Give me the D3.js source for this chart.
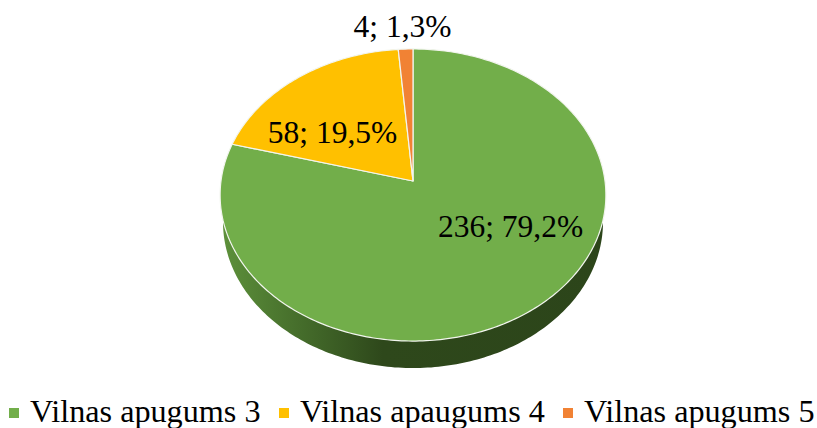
<!DOCTYPE html>
<html><head><meta charset="utf-8">
<script src="https://cdnjs.cloudflare.com/ajax/libs/d3/7.8.5/d3.min.js"></script>
<style>html,body{margin:0;background:#fff}svg{display:block}text{font-family:"Liberation Serif",serif;font-size:31.5px;fill:#000}text.t{font-size:32.2px}</style>
</head><body><svg id="c" width="817" height="428"></svg>
<script>
const categories=["Vilnas apugums 3","Vilnas apaugums 4","Vilnas apugums 5"];
const values=[236,58,4];
const percentLabels=["79,2%","19,5%","1,3%"];
const colors=["#72ae4a","#ffc000","#f18234"];
const svg=d3.select("#c");
const cx=413,cy=181,a=192,b=144.7,k=0.0959;
const proj=(r,t)=>{const u=r*Math.sin(t),v=-r*Math.cos(t),w=1-k*v;return [cx+a*u/w,cy+b*v/w];};
const pie=d3.pie().sort(null).value(d=>d);
const arcs=pie(values);
const line=d3.line();
const defs=svg.append("defs");
const g=defs.append("linearGradient").attr("id","wall").attr("gradientUnits","userSpaceOnUse").attr("x1",225).attr("x2",600).attr("y1",0).attr("y2",0);
[[0,"#5c8f3a"],[0.2,"#456d2b"],[0.42,"#2e481b"],[1,"#2c451a"]].forEach(s=>g.append("stop").attr("offset",s[0]).attr("stop-color",s[1]));
// side wall: the rim of the first slice dropped by the depth
const depth=27,wallShrink=0.985;
const rim=d3.range(95,266).map(d=>proj(1,d*Math.PI/180));
const lower=rim.map(p=>[cx+(p[0]-cx)*wallShrink,p[1]+depth]);
const wallPts=[proj(1,Math.PI*0.47),...lower,proj(1,Math.PI*1.53),[cx,cy]];
svg.append("path").attr("d",line(wallPts)+"Z").attr("fill","url(#wall)");
const sector=d=>{
  const n=Math.max(3,Math.ceil((d.endAngle-d.startAngle)*60));
  const pts=d3.range(n+1).map(i=>proj(1,d.startAngle+(d.endAngle-d.startAngle)*i/n));
  return line([[cx,cy],...pts])+"Z";
};
svg.selectAll("path.s").data(arcs).join("path").attr("class","s").attr("d",sector)
  .attr("fill",(d,i)=>colors[i]).attr("stroke","#f2f5ee").attr("stroke-width",1.2).attr("stroke-linejoin","round");
const labelPos=[[510.5,237],[332.5,143],[402.5,37]];
svg.selectAll("text.l").data(values).join("text").attr("class","l")
  .attr("x",(d,i)=>labelPos[i][0]).attr("y",(d,i)=>labelPos[i][1]).attr("text-anchor","middle")
  .text((d,i)=>d+"; "+percentLabels[i]);
const legendX=[9,279,563];
const lg=svg.selectAll("g.lg").data(categories).join("g").attr("class","lg").attr("transform",(d,i)=>`translate(${legendX[i]},0)`);
lg.append("rect").attr("y",408).attr("width",10).attr("height",10).attr("fill",(d,i)=>colors[i]);
lg.append("text").attr("class","t").attr("x",21).attr("y",422).text(d=>d);
</script></body></html>
